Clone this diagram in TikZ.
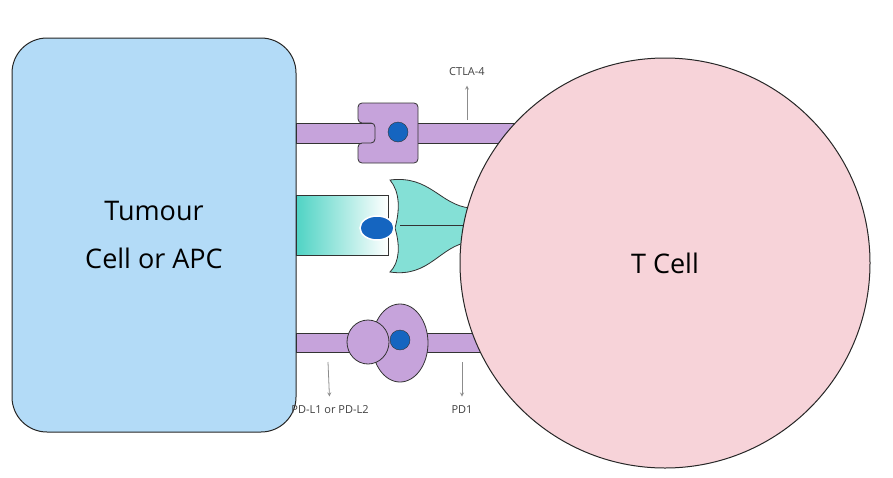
\documentclass[tikz,border=0pt]{standalone}
\usepackage{fontspec}
\setsansfont{Open Sans}
\usetikzlibrary{shapes.geometric}
\definecolor{cellblue}{HTML}{B3DBF7}
\definecolor{cellpink}{HTML}{F7D3D9}
\definecolor{lilac}{HTML}{C6A3DB}
\definecolor{teal}{HTML}{4FD3C4}
\definecolor{dotblue}{HTML}{1565C0}
\tikzset{
  cell/.style={draw=black!85,line width=1pt},
  stalk/.style={draw=black!80,fill=lilac,line width=0.8pt},
  dot/.style={circle,draw=black!80,fill=dotblue,minimum size=20pt,inner sep=0pt},
  lbl/.style={font=\sffamily\fontsize{11}{13}\selectfont,text=black!75},
  sig/.style={->,>=stealth,draw=black!45,line width=0.8pt,shorten >=6pt}
}
\begin{document}
\begin{tikzpicture}[x=1pt,y=-1pt]
\useasboundingbox (0,0) rectangle (893,477);
% CTLA-4 pair
\draw[stalk] (296,123) rectangle (540,143);
\draw[stalk,rounded corners=4pt] (358,103) -- (418,103) -- (418,163) -- (358,163) -- (358,143)
  -- (375,143) -- (375,123) -- (358,123) -- cycle;
\node[dot] (ctla) at (398,132) {};
% central pair
\shade[left color=teal,right color=white,draw=black!80] (296,195) rectangle (388,255);
\draw[black!80,fill=teal!70,line width=0.8pt] (390,180) .. controls (430,175) and (440,205) .. (470,208)
  -- (500,208) -- (500,242) -- (470,242) .. controls (440,245) and (430,278) .. (390,272)
  .. controls (400,262) and (400,245) .. (395,228) .. controls (400,210) and (400,192) .. (390,180) -- cycle;
\draw[black!80,line width=0.8pt] (400,225) -- (500,225);
\node[ellipse,draw=white,line width=1.5pt,fill=dotblue,minimum width=34pt,minimum height=24pt] (cd) at (377,228) {};
% PD-1 pair
\draw[stalk] (296,333) rectangle (520,352);
\node[stalk,ellipse,minimum width=56pt,minimum height=78pt] (pd1) at (400,343) {};
\node[stalk,ellipse,minimum width=42pt,minimum height=44pt] (pdl) at (368,342) {};
\node[dot] (pdd) at (400,340) {};
% Cells
\node[cell,fill=cellblue,rounded corners=35pt,minimum width=284pt,minimum height=394pt,
  font=\sffamily\fontsize{27}{48}\selectfont,align=center] (apc) at (154,235) {Tumour\\Cell or APC};
\node[cell,fill=cellpink,circle,minimum size=410pt,font=\sffamily\fontsize{27}{30}\selectfont] (tcell) at (665,263) {T Cell};
% labels
\node[lbl] (ctlalbl) at (467,72) {CTLA-4};
\coordinate (ctlaup) at (467,120);
\draw[sig] (ctlaup) -- (ctlalbl);
\node[lbl] (pdllbl) at (330,410) {PD-L1 or PD-L2};
\coordinate (pdltop) at (328,362);
\draw[sig] (pdltop) -- (pdllbl);
\node[lbl] (pd1lbl) at (462,410) {PD1};
\coordinate (pd1top) at (462,362);
\draw[sig] (pd1top) -- (pd1lbl);
\end{tikzpicture}
\end{document}
